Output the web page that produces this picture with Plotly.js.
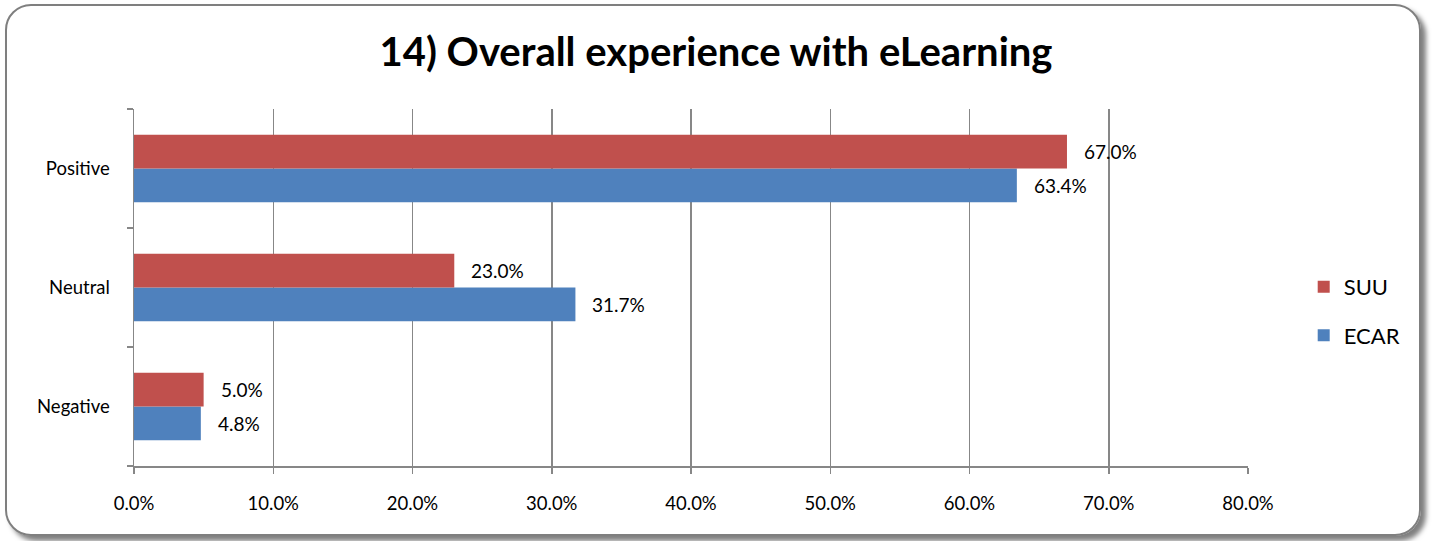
<!DOCTYPE html>
<html>
<head>
<meta charset="utf-8">
<script src="https://cdn.plot.ly/plotly-3.0.1.min.js"></script>
<style>
  html, body { margin: 0; padding: 0; background: #ffffff; }
  #wrap { position: relative; width: 1432px; height: 541px; overflow: hidden; }
  #chart { position: absolute; left: 0; top: 0; width: 1432px; height: 541px; }
  #frame {
    position: absolute; left: 5px; top: 4px; width: 1412px; height: 528px;
    border: 2px solid #7f7f7f; border-radius: 26px;
    box-shadow: 5px 5px 5px rgba(0,0,0,0.5);
    pointer-events: none; background: transparent;
  }
</style>
</head>
<body>
<div id="wrap">
  <div id="chart"></div>
  <div id="frame"></div>
</div>
<script>
const categories = ["Negative", "Neutral", "Positive"];
const suuValues = [5.0, 23.0, 67.0];
const ecarValues = [4.8, 31.7, 63.4];
const xTickVals = [0, 10, 20, 30, 40, 50, 60, 70, 80];
const xTickText = ["0.0%", "10.0%", "20.0%", "30.0%", "40.0%", "50.0%", "60.0%", "70.0%", "80.0%"];

const FONT = "Lato, 'Open Sans', sans-serif";
const fmt = v => v.toFixed(1) + "%";

const traces = [
  {
    type: "bar", orientation: "h", name: "ECAR",
    y: categories, x: ecarValues,
    marker: { color: "#4F81BD", line: { width: 0 } },
    legendgroup: "b", legendrank: 2, hoverinfo: "x+name"
  },
  {
    type: "bar", orientation: "h", name: "SUU",
    y: categories, x: suuValues,
    marker: { color: "#C0504D", line: { width: 0 } },
    legendgroup: "a", legendrank: 1, hoverinfo: "x+name"
  }
];

const annotations = [];
categories.forEach((c, i) => {
  annotations.push({
    x: suuValues[i], y: c, xref: "x", yref: "y",
    text: fmt(suuValues[i]), showarrow: false,
    xanchor: "left", yanchor: "middle", xshift: 15, yshift: 17,
    font: { family: FONT, size: 19, color: "#000000" }
  });
  annotations.push({
    x: ecarValues[i], y: c, xref: "x", yref: "y",
    text: fmt(ecarValues[i]), showarrow: false,
    xanchor: "left", yanchor: "middle", xshift: 15, yshift: -17,
    font: { family: FONT, size: 19, color: "#000000" }
  });
});

const layout = {
  width: 1432, height: 541,
  paper_bgcolor: "rgba(255,255,255,1)",
  plot_bgcolor: "rgba(255,255,255,1)",
  margin: { l: 134, r: 184, t: 109, b: 75, pad: 0 },
  font: { family: FONT, size: 18, color: "#000000" },
  title: {
    text: "<b>14) Overall experience with eLearning</b>",
    x: 0.5, xref: "container", xanchor: "center",
    y: 1 - 52 / 541, yref: "container", yanchor: "middle",
    font: { family: FONT, size: 40, color: "#000000" }
  },
  barmode: "group",
  bargap: 0.433,
  bargroupgap: 0,
  showlegend: true,
  legend: {
    x: 1.05, xanchor: "left", y: 0.433, yanchor: "middle",
    traceorder: "grouped", tracegroupgap: 17,
    font: { family: FONT, size: 22, color: "#000000" },
    bgcolor: "rgba(0,0,0,0)", itemclick: false
  },
  xaxis: {
    range: [0, 80], tickvals: xTickVals, ticktext: xTickText,
    showgrid: true, gridcolor: "#878787", gridwidth: 1.5,
    showline: true, linecolor: "#878787", linewidth: 1.5,
    ticks: "outside", ticklen: 6, tickcolor: "#878787", tickwidth: 1.5,
    ticklabelstandoff: 14, zeroline: false, fixedrange: true,
    tickfont: { family: FONT, size: 18.5, color: "#000000" }
  },
  yaxis: {
    type: "category", categoryorder: "array", categoryarray: categories,
    range: [-0.5, 2.5],
    showline: true, linecolor: "#878787", linewidth: 1.5,
    ticks: "outside", tickson: "boundaries", ticklen: 6,
    tickcolor: "#878787", tickwidth: 1.5,
    ticklabelstandoff: 19, showgrid: false, zeroline: false, fixedrange: true,
    tickfont: { family: FONT, size: 18.5, color: "#000000" }
  },
  annotations: annotations
};

Plotly.newPlot("chart", traces, layout, { staticPlot: true, displayModeBar: false });
</script>
</body>
</html>
